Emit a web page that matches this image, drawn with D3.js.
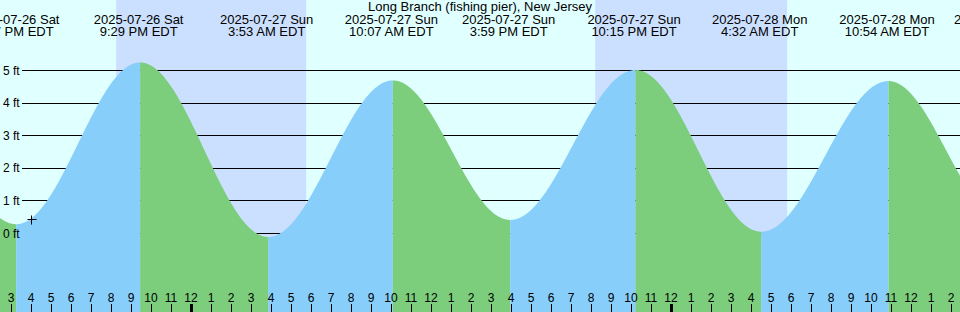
<!DOCTYPE html>
<html>
<head>
<meta charset="utf-8">
<script src="https://cdn.jsdelivr.net/npm/d3@7"></script>
<style>
  body { margin: 0; background: #fff; }
  svg { display: block; }
  text { font-family: "Liberation Sans", Arial, sans-serif; font-size: 12px; fill: #000; }
  .hdr { font-size: 13px; }
</style>
</head>
<body>
<svg id="chart" width="960" height="312"></svg>
<script>
// station + tide extremes (local EDT)
const stationName = "Long Branch (fishing pier), New Jersey";
const eventTimes = ["2025-07-26 09:05", "2025-07-26 15:17", "2025-07-26 21:29", "2025-07-27 03:53",
                    "2025-07-27 10:07", "2025-07-27 15:59", "2025-07-27 22:15", "2025-07-28 04:32",
                    "2025-07-28 10:54", "2025-07-28 16:38"];
const eventLevels = [4.9, 0.27, 5.23, -0.12, 4.68, 0.40, 5.00, 0.04, 4.66, 0.45];
const nightStarts = ["2025-07-26 20:17", "2025-07-27 20:14"];
const nightEnds = ["2025-07-27 05:47", "2025-07-28 05:50"];
const levelTicks = [0, 1, 2, 3, 4, 5];
const markTime = "2025-07-26 16:00";

const width = 960, height = 312;
const parse = d3.timeParse("%Y-%m-%d %H:%M");
const events = eventTimes.map((t, i) => ({ t: parse(t), v: eventLevels[i] }));

const t0 = new Date(2025, 6, 26, 14, 28, 30);
const t1 = d3.timeHour.offset(t0, 48);
const x = d3.scaleTime().domain([t0, t1]).range([0, width]);
const y = d3.scaleLinear().domain([0, 5]).range([233, 70]);

// cosine shape between successive extremes
function levelAt(t) {
    for (let i = 0; i < events.length - 1; i++) {
        const a = events[i], b = events[i + 1];
        if (t >= a.t && t <= b.t) {
            const f = (t - a.t) / (b.t - a.t);
            return a.v + (b.v - a.v) * (1 - Math.cos(Math.PI * f)) / 2;
        }
    }
    return null;
}

const svg = d3.select("#chart");

// day / night background
svg.append("rect").attr("width", width).attr("height", height).attr("fill", "#e0ffff");
svg.selectAll(".night")
    .data(nightStarts.map((s, i) => [parse(s), parse(nightEnds[i])]))
    .enter().append("rect")
    .attr("class", "night")
    .attr("x", d => x(d[0]))
    .attr("width", d => x(d[1]) - x(d[0]))
    .attr("y", 0).attr("height", height)
    .attr("fill", "#cbdfff");

// level lines
svg.selectAll(".grid")
    .data(levelTicks)
    .enter().append("line")
    .attr("x1", 22).attr("x2", width)
    .attr("y1", d => Math.round(y(d)) + 0.5).attr("y2", d => Math.round(y(d)) + 0.5)
    .attr("stroke", "#000").attr("stroke-width", 1);

// tide fill, one piece per rise / fall
const area = d3.area().x(d => x(d.t)).y0(height).y1(d => y(d.v));
for (let i = 0; i < events.length - 1; i++) {
    const a = events[i], b = events[i + 1];
    const pts = [];
    const n = 120;
    for (let k = 0; k <= n; k++) {
        const t = new Date(+a.t + (b.t - a.t) * k / n);
        pts.push({ t: t, v: levelAt(t) });
    }
    svg.append("path")
        .attr("d", area(pts))
        .attr("fill", b.v > a.v ? "#87cefa" : "#7ccd7c");
}

// level labels
svg.selectAll(".lvl")
    .data(levelTicks)
    .enter().append("text")
    .attr("x", 3)
    .attr("y", d => y(d) + 4.5)
    .text(d => d + " ft");

// header
svg.append("text").attr("class", "hdr").attr("x", width / 2).attr("y", 11)
    .attr("text-anchor", "middle").text(stationName);
const fmtDate = d3.timeFormat("%Y-%m-%d %a");
const fmtTime = d3.timeFormat("%-I:%M %p");
const shown = events.filter(d => x(d.t) > -50 && x(d.t) < width + 50);
const heads = svg.selectAll(".head").data(shown).enter().append("g")
    .attr("transform", d => `translate(${x(d.t) - 1.5},0)`);
heads.append("text").attr("class", "hdr").attr("y", 23.5).attr("text-anchor", "middle").text(d => fmtDate(d.t));
heads.append("text").attr("class", "hdr").attr("y", 35.5).attr("text-anchor", "middle").text(d => fmtTime(d.t) + " EDT");

// hour axis
const hours = x.ticks(d3.timeHour.every(1));
svg.selectAll(".tick")
    .data(hours)
    .enter().append("line")
    .attr("x1", d => Math.round(x(d)) + 0.5).attr("x2", d => Math.round(x(d)) + 0.5)
    .attr("y1", 304).attr("y2", height)
    .attr("stroke", "#000")
    .attr("stroke-width", d => d.getHours() === 0 ? 3 : 1);
svg.selectAll(".hlab")
    .data(hours)
    .enter().append("text")
    .attr("x", d => x(d) + 0.5)
    .attr("y", 302)
    .attr("text-anchor", "middle")
    .text(d3.timeFormat("%-I"));

// "+" marker
const mt = parse(markTime);
const mx = Math.round(x(mt)) + 0.5, my = Math.round(y(levelAt(mt))) + 0.5;
svg.append("path")
    .attr("d", `M${mx - 4},${my}H${mx + 5}M${mx},${my - 4}V${my + 5}`)
    .attr("stroke", "#000").attr("stroke-width", 1).attr("fill", "none");
</script>
</body>
</html>
